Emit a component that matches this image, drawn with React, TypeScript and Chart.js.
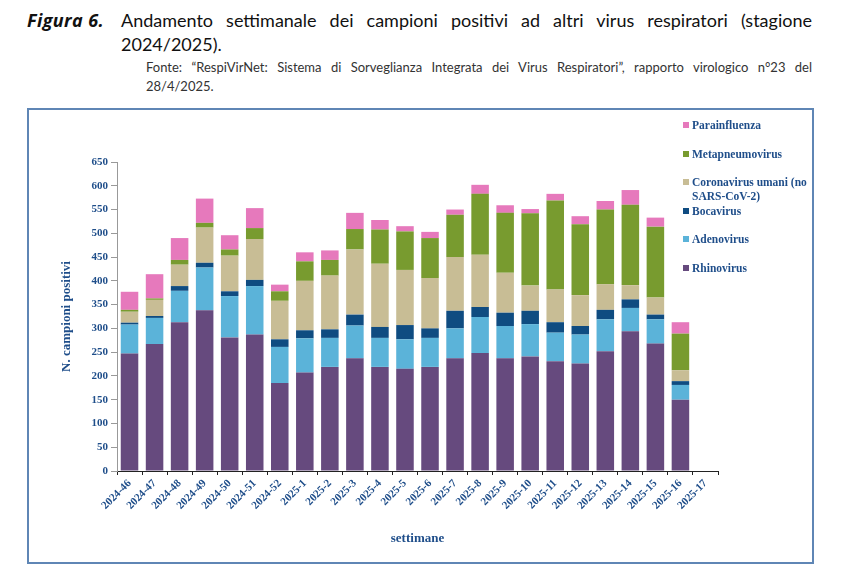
import React, { useEffect, useRef } from "react";
import { Chart, registerables } from "chart.js";

Chart.register(...registerables);

const weeks = [
  "2024-46", "2024-47", "2024-48", "2024-49", "2024-50", "2024-51", "2024-52",
  "2025-1", "2025-2", "2025-3", "2025-4", "2025-5", "2025-6", "2025-7", "2025-8",
  "2025-9", "2025-10", "2025-11", "2025-12", "2025-13", "2025-14", "2025-15",
  "2025-16", "2025-17",
];

const rhinovirus = [247, 267, 313, 338, 281, 287, 185, 207, 219, 237, 219, 215, 219, 237, 248, 237, 241, 231, 226, 252, 294, 268, 150, null];
const adenovirus = [61, 55, 66, 90, 87, 102, 76, 72, 61, 69, 61, 62, 61, 63, 76, 68, 68, 60, 61, 67, 49, 51, 31, null];
const bocavirus = [4, 4, 10, 10, 10, 13, 16, 17, 18, 23, 23, 30, 20, 37, 21, 28, 28, 22, 18, 20, 18, 10, 8, null];
const coronavirus = [23, 34, 45, 74, 75, 86, 81, 104, 113, 137, 133, 116, 106, 113, 110, 84, 53, 69, 65, 54, 30, 36, 23, null];
const metapneumovirus = [4, 3, 10, 10, 13, 23, 20, 41, 33, 43, 72, 81, 84, 89, 128, 126, 152, 187, 149, 157, 169, 149, 77, null];
const parainfluenza = [38, 51, 46, 51, 30, 42, 14, 19, 20, 34, 20, 11, 13, 11, 19, 16, 9, 14, 17, 18, 31, 19, 24, null];

const seriesLabels = [
  "Rhinovirus",
  "Adenovirus",
  "Bocavirus",
  "Coronavirus umani (no SARS-CoV-2)",
  "Metapneumovirus",
  "Parainfluenza",
];
const seriesData = [rhinovirus, adenovirus, bocavirus, coronavirus, metapneumovirus, parainfluenza];
const seriesColors = ["#664A7E", "#5BB3D9", "#0F4C81", "#C8BD95", "#789B2F", "#E679BC"];

const yMin = 0;
const yMax = 650;
const yStep = 50;

const titleLabel = "Figura 6.";
const titleLines = [
  "Andamento settimanale dei campioni positivi ad altri virus respiratori (stagione",
  "2024/2025).",
];
const sourceLines = [
  "Fonte: \u201CRespiVirNet: Sistema di Sorveglianza Integrata dei Virus Respiratori\u201D, rapporto virologico n\u00B023 del",
  "28/4/2025.",
];
const xTitle = "settimane";
const yTitle = "N. campioni positivi";

const textBlue = "#1F4E8A";
const serif = "'Liberation Serif', 'Times New Roman', serif";

export default function App() {
  const canvasRef = useRef<HTMLCanvasElement | null>(null);

  useEffect(() => {
    if (!canvasRef.current) return;
    const tickFont = { family: serif, weight: "bold" as const, size: 11 };
    const chart = new Chart(canvasRef.current, {
      type: "bar",
      data: {
        labels: weeks,
        datasets: seriesLabels.map((label, i) => ({
          label,
          data: seriesData[i],
          backgroundColor: seriesColors[i],
          borderWidth: 0,
          barPercentage: 0.7,
          categoryPercentage: 1.0,
        })),
      },
      options: {
        animation: false,
        responsive: true,
        maintainAspectRatio: false,
        layout: { padding: { left: 30, right: 94, top: 52, bottom: 16 } },
        plugins: { legend: { display: false }, tooltip: { enabled: false } },
        scales: {
          x: {
            stacked: true,
            offset: true,
            grid: { display: true, drawOnChartArea: false, drawTicks: true, tickLength: 4, color: "#222", offset: true },
            border: { display: true, color: "#222", width: 1 },
            ticks: { minRotation: 45, maxRotation: 45, autoSkip: false, font: tickFont, color: textBlue, padding: 2 },
            title: { display: true, text: xTitle, font: { family: serif, weight: "bold", size: 13 }, color: textBlue, padding: 0 },
            afterFit: (s: any) => { s.height = 75; },
          },
          y: {
            stacked: true,
            min: yMin,
            max: yMax,
            ticks: { stepSize: yStep, font: tickFont, color: textBlue, padding: 3 },
            grid: { display: true, drawOnChartArea: false, drawTicks: true, tickLength: 6, color: "#999" },
            border: { display: true, color: "#999", width: 1 },
            title: { display: true, text: yTitle, font: { family: serif, weight: "bold", size: 13 }, color: textBlue, padding: 0 },
            afterFit: (s: any) => { s.width = 58; },
          },
        },
      },
    });
    return () => chart.destroy();
  }, []);

  const legendItems = seriesLabels.map((l, i) => ({ label: l, color: seriesColors[i] })).reverse();

  const lineStyle = (justify: boolean): React.CSSProperties =>
    justify ? { textAlign: "justify", textAlignLast: "justify" } : { textAlign: "left" };

  return (
    <div style={{ position: "absolute", left: 0, top: 0, width: 856, height: 577, background: "#fff" }}>
      <div style={{ position: "absolute", left: 27, top: 8, fontFamily: "'Open Sans', sans-serif", fontSize: 18, fontWeight: 700, fontStyle: "italic", letterSpacing: 0.4, color: "#111", lineHeight: "24px" }}>
        {titleLabel}
      </div>
      <div style={{ position: "absolute", left: 121, top: 8, width: 691, fontFamily: "Lato, sans-serif", fontSize: 18, color: "#111", lineHeight: "24px" }}>
        {titleLines.map((t, i) => (
          <div key={i} style={lineStyle(i < titleLines.length - 1)}>{t}</div>
        ))}
      </div>
      <div style={{ position: "absolute", left: 146, top: 58, width: 666, fontFamily: "Lato, sans-serif", fontSize: 13, color: "#333", lineHeight: "18.5px" }}>
        {sourceLines.map((t, i) => (
          <div key={i} style={lineStyle(i < sourceLines.length - 1)}>{t}</div>
        ))}
      </div>
      <div style={{ position: "absolute", left: 27, top: 108, width: 787, height: 456, boxSizing: "border-box", border: "2px solid #5F86B5" }} />
      <div style={{ position: "absolute", left: 29, top: 110, width: 783, height: 452 }}>
        <canvas ref={canvasRef} />
      </div>
      <div style={{ position: "absolute", left: 683, top: 118, width: 125, fontFamily: serif, fontWeight: 700, fontSize: 11.5, lineHeight: "14.3px", color: textBlue }}>
        {legendItems.map((it) => (
          <div key={it.label} style={{ position: "relative", height: 28.6, paddingLeft: 9 }}>
            <span style={{ position: "absolute", left: 0, top: 4, width: 6, height: 6, background: it.color }} />
            {it.label}
          </div>
        ))}
      </div>
    </div>
  );
}
